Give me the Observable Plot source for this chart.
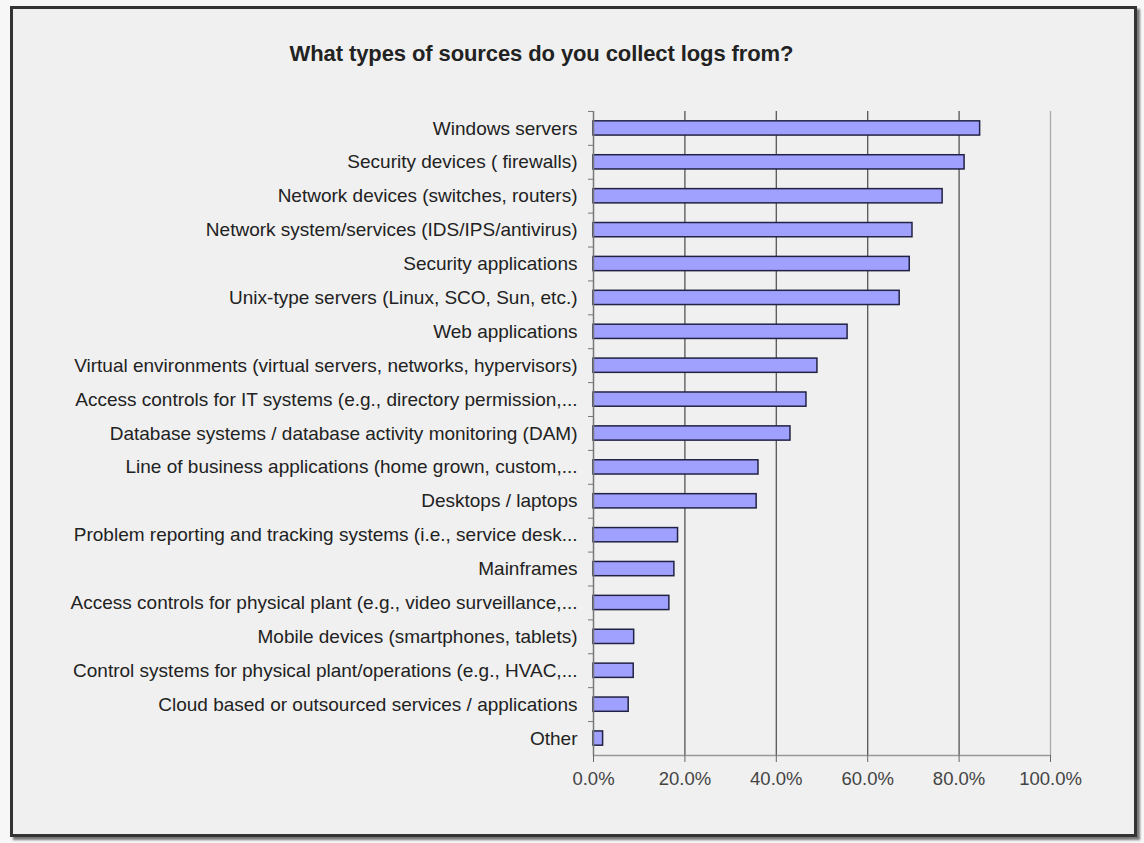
<!DOCTYPE html>
<html>
<head>
<meta charset="utf-8">
<script src="https://cdn.jsdelivr.net/npm/d3@7"></script>
<script src="https://cdn.jsdelivr.net/npm/@observablehq/plot@0.6"></script>
<style>
  html, body { margin: 0; padding: 0; background: #f7f7f7; width: 1144px; height: 843px; overflow: hidden; }
  #frame { position: absolute; left: 10px; top: 6px; width: 1121px; height: 825px; border: 3px solid #333; background: #f0f0f0; box-shadow: 3px 3px 2px #777; }
  #title { position: absolute; left: 0; top: 41px; width: 1083px; text-align: center; font-family: "Liberation Sans", Arial, sans-serif; font-size: 22px; font-weight: bold; color: #222; letter-spacing: -0.1px; }
  #chart { position: absolute; left: 0; top: 0; }
</style>
</head>
<body>
<div id="frame"></div>
<div id="title">What types of sources do you collect logs from?</div>
<div id="chart"></div>
<script>
const categories = [
  "Windows servers",
  "Security devices ( firewalls)",
  "Network devices (switches, routers)",
  "Network system/services (IDS/IPS/antivirus)",
  "Security applications",
  "Unix-type servers (Linux, SCO, Sun, etc.)",
  "Web applications",
  "Virtual environments (virtual servers, networks, hypervisors)",
  "Access controls for IT systems (e.g., directory permission,...",
  "Database systems / database activity monitoring (DAM)",
  "Line of business applications (home grown, custom,...",
  "Desktops / laptops",
  "Problem reporting and tracking systems (i.e., service desk...",
  "Mainframes",
  "Access controls for physical plant (e.g., video surveillance,...",
  "Mobile devices (smartphones, tablets)",
  "Control systems for physical plant/operations (e.g., HVAC,...",
  "Cloud based or outsourced services / applications",
  "Other"
];
const values = [84.6, 81.2, 76.4, 69.8, 69.2, 67.0, 55.6, 49.0, 46.6, 43.1, 36.1, 35.7, 18.5, 17.7, 16.6, 8.9, 8.8, 7.7, 2.1];
const xTicks = [0, 20, 40, 60, 80, 100];
const gridDark = [20, 40, 60, 80];
const gridLight = [100];

const data = categories.map((c, i) => ({category: c, value: values[i]}));

const chart = Plot.plot({
  width: 1144,
  height: 843,
  marginLeft: 593,
  marginRight: 94,
  marginTop: 111,
  marginBottom: 88,
  style: {background: "transparent", fontFamily: "'Liberation Sans', Arial, sans-serif", fontSize: "19px", color: "#333"},
  x: {domain: [0, 100]},
  y: {domain: categories, paddingInner: 0.58, paddingOuter: 0.29, round: false},
  marks: [
    Plot.ruleX(gridDark, {stroke: "#555", strokeWidth: 1.3, strokeOpacity: 1}),
    Plot.ruleX(gridLight, {stroke: "#aaa", strokeWidth: 1.3}),
    Plot.frame({anchor: "bottom", stroke: "#999", strokeWidth: 1.3}),
    Plot.barX(data, {x: "value", y: "category", fill: "#a0a0ff", stroke: "#222244", strokeWidth: 1.5}),
    Plot.ruleX([0], {stroke: "#777", strokeWidth: 1.5}),
    Plot.axisX({ticks: xTicks, tickSize: 7, tickPadding: 9, tickFormat: d => d3.format(".1f")(d) + "%", stroke: "#666", fill: "#444", label: null, fontSize: 18.5}),
    Plot.axisY({tickSize: 5, tickFormat: () => "", dy: -17, stroke: "#777", label: null}),
    Plot.axisY({tickSize: 0, tickPadding: 16, fill: "#222", label: null, fontSize: 19})
  ]
});
document.getElementById("chart").appendChild(chart);
</script>
</body>
</html>
